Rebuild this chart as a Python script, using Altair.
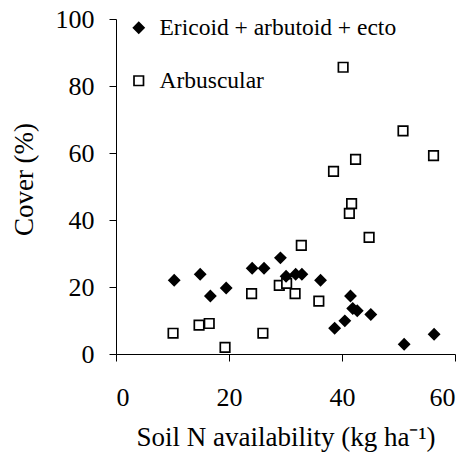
import altair as alt
import pandas as pd

groups = ["Ericoid + arbutoid + ecto", "Arbuscular"]

eric_x = [10.3, 14.9, 16.7, 19.5, 24.1, 26.2, 29.1, 30.1, 31.8, 32.9, 36.2, 38.7, 40.5, 41.5, 41.9, 42.7, 45.1, 51.0, 56.3]
eric_y = [22.0, 23.8, 17.3, 19.7, 25.6, 25.6, 28.7, 23.2, 23.8, 23.8, 22.0, 7.7, 9.9, 17.3, 13.6, 12.9, 11.8, 2.9, 5.9]

arb_x = [10.1, 14.7, 16.5, 19.3, 24.0, 26.0, 28.9, 30.2, 31.7, 32.8, 35.9, 38.5, 40.2, 41.3, 41.7, 42.4, 44.8, 50.8, 56.2]
arb_y = [6.2, 8.6, 9.1, 2.0, 18.0, 6.2, 20.5, 21.1, 18.0, 32.4, 15.8, 54.5, 85.6, 42.0, 44.9, 58.1, 34.8, 66.6, 59.2]

x_ticks = [0, 20, 40, 60]
y_ticks = [0, 20, 40, 60, 80, 100]

df = pd.DataFrame({
    "n": arb_x + eric_x,
    "cover": arb_y + eric_y,
    "group": [groups[1]] * len(arb_x) + [groups[0]] * len(eric_x),
})

FONT = "Liberation Serif, serif"

chart = alt.Chart(df).mark_point(opacity=1, strokeWidth=1.7).encode(
    x=alt.X("n:Q", scale=alt.Scale(domain=[0, 60], nice=False),
            axis=alt.Axis(values=x_ticks, title="Soil N availability (kg ha\u207b\u00b9)",
                          titleBaseline="alphabetic", titleY=91)),
    y=alt.Y("cover:Q", scale=alt.Scale(domain=[0, 100], nice=False),
            axis=alt.Axis(values=y_ticks, title="Cover (%)",
                          titleX=-92, titleY=160, titleBaseline="middle")),
    shape=alt.Shape("group:N", scale=alt.Scale(domain=groups, range=["diamond", "square"]), title=None),
    fill=alt.Fill("group:N", scale=alt.Scale(domain=groups, range=["black", "white"]), title=None),
    stroke=alt.Stroke("group:N", scale=alt.Scale(domain=groups, range=["black", "black"]), title=None),
    size=alt.Size("group:N", scale=alt.Scale(domain=groups, range=[110, 90]), title=None),
).properties(
    width=339, height=335,
    autosize=alt.AutoSizeParams(type="none"),
    padding={"left": 116, "top": 19, "right": 19, "bottom": 113},
).configure(
    font=FONT
).configure_view(
    stroke=None
).configure_axis(
    grid=False,
    domainColor="black", domainWidth=1,
    tickColor="black", tickSize=7, tickWidth=1,
    labelFont=FONT, labelFontSize=26, labelColor="black",
    titleFont=FONT, titleFontSize=27, titleFontWeight="normal", titleColor="black",
).configure_axisX(
    labelPadding=23
).configure_axisY(
    labelPadding=15
).configure_legend(
    orient="none", legendX=11, legendY=-3, padding=0,
    labelFont=FONT, labelFontSize=23.5, labelColor="black",
    labelOffset=9, rowPadding=28, symbolStrokeWidth=1.7, labelLimit=400,
)

chart.save("out.html", embed_options={"renderer": "svg", "actions": False})
